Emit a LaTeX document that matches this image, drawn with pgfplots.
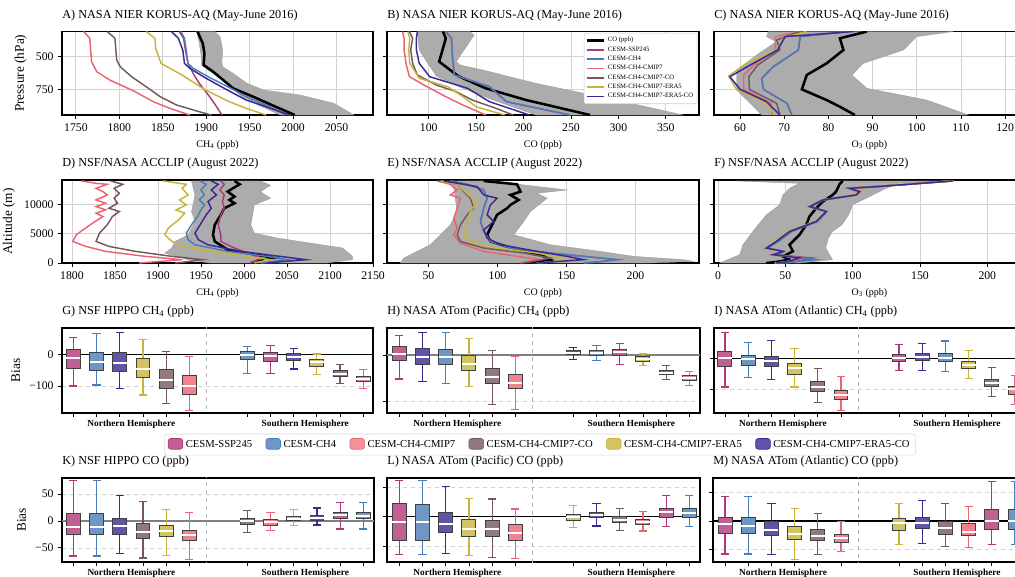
\documentclass[border=0pt]{standalone}
\usepackage{fontspec}
\setmainfont{Liberation Serif}
\usepackage{pgfplots}
\pgfplotsset{compat=1.18}
\usepgfplotslibrary{statistics}

\definecolor{cSSP}{RGB}{176,56,122}
\definecolor{cCH}{RGB}{74,125,183}
\definecolor{cCM}{RGB}{238,99,114}
\definecolor{cCO}{RGB}{117,88,92}
\definecolor{cERA}{RGB}{201,180,58}
\definecolor{cEC}{RGB}{58,40,148}

\tikzset{hemi/.style={font=\bfseries\fontsize{7}{8}\selectfont, anchor=north, inner sep=0pt, yshift=-5pt}}
\pgfplotsset{
 base/.style={scale only axis, anchor=south west, clip mode=individual,
   axis line style={line width=1.3pt}, tick align=outside, xtick pos=bottom, ytick pos=left,
   major tick length=2.8pt, tick style={black, line width=0.6pt},
   tick label style={font=\fontsize{8.8}{10}\selectfont},
   title style={at={(0,1)}, anchor=base west, inner sep=0pt, yshift=4pt, font=\fontsize{9.2}{10.5}\selectfont},
   ylabel style={font=\fontsize{10}{11}\selectfont},
   xlabel style={font=\fontsize{7.5}{8.5}\selectfont},
   scaled ticks=false, /pgf/number format/1000 sep={}, /pgf/number format/assume math mode=true},
 prof/.style={base, grid=major, grid style={gray!35, line width=0.6pt},
   legend image code/.code={\draw[##1] (0pt,0pt) -- (13pt,0pt);}},
 boxax/.style={base, ymajorgrids, grid style={dashed, gray!35, line width=0.5pt},
   xtick={0,1,2,3,4,5,7.5,8.5,9.5,10.5,11.5,12.5}, xticklabels={},
   boxplot/draw direction=y,
   boxplot/box extend=0.6, boxplot/whisker extend=0.35,
   boxplot/every median/.style={draw=white, line width=1.5pt}},
 mline/.style={line width=1.1pt},
 obs/.style={black, line width=1.9pt},
 band/.style={fill=gray!65, draw=gray!75, line width=0.3pt, forget plot},
}
% color, position, lower whisker, lower quartile, median, upper quartile, upper whisker
\newcommand{\bx}[7]{\addplot[#1, line width=0.9pt, forget plot,
  boxplot prepared={draw position=#2, lower whisker=#3, lower quartile=#4, median=#5, upper quartile=#6, upper whisker=#7},
  boxplot/every box/.style={draw=black!75, fill=#1!80, line width=0.7pt}] coordinates {};}
\newcommand{\sep}{\addplot[forget plot, dashed, gray!60, line width=0.5pt] coordinates {(5.73,-500) (5.73,500)};}
\newcommand{\zeroline}[1]{\addplot[forget plot, #1] coordinates {(-2,0) (15,0)};}
\newcommand{\hemis}{\node[hemi] at ({axis cs:2.5,0}|-{rel axis cs:0,0}) {Northern Hemisphere};
  \node[hemi] at ({axis cs:10,0}|-{rel axis cs:0,0}) {Southern Hemisphere};}

\begin{document}
\begin{tikzpicture}
%% ---------------- A
\begin{axis}[prof, at={(46.5pt,345.75pt)}, width=233.25pt, height=62.6pt,
  xmin=1734, xmax=2092, ymin=308, ymax=946, y dir=reverse,
  xtick={1750,1800,...,2050}, ytick={500,750},
  title={A) NASA NIER KORUS-AQ (May-June 2016)}, xlabel={CH\textsubscript{4} (ppb)}, ylabel={Pressure (hPa)}]
\addplot[band] coordinates {(1910,308) (1916,347) (1919,449) (1918,538) (1919,577) (1931,628) (1947,704) (1966,755) (2008,793) (2047,857) (2070,946)
  (1985,946) (1960,870) (1940,800) (1924,704) (1905,615) (1895,564) (1894,487) (1892,398) (1889,308)} -- cycle;
\addplot[obs] coordinates {(1890,308) (1896,398) (1898,475) (1897,564) (1908,615) (1931,742) (1954,806) (1980,883) (2002,946)};
\addplot[mline, cSSP] coordinates {(1869,308) (1874,360) (1876,449) (1879,551) (1886,640) (1892,704) (1904,806) (1912,883) (1918,946)};
\addplot[mline, cCH] coordinates {(1871,308) (1875,360) (1877,449) (1879,551) (1885,589) (1904,660) (1927,737) (1950,819) (1973,883) (1992,946)};
\addplot[mline, cCM] coordinates {(1759,308) (1766,360) (1767,450) (1768,538) (1774,615) (1789,679) (1816,760) (1839,844) (1858,895) (1881,946)};
\addplot[mline, cCO] coordinates {(1786,308) (1795,360) (1796,449) (1797,526) (1801,577) (1814,653) (1831,730) (1847,806) (1866,870) (1892,921) (1906,946)};
\addplot[mline, cERA] coordinates {(1831,308) (1841,360) (1842,440) (1848,551) (1872,640) (1898,750) (1925,840) (1946,895) (1969,946)};
\addplot[mline, cEC] coordinates {(1860,308) (1868,360) (1873,449) (1875,551) (1881,589) (1900,666) (1923,750) (1946,832) (1969,883) (1996,946)};
\end{axis}
%% ---------------- B
\begin{axis}[prof, at={(290.25pt,345.75pt)}, width=234pt, height=62.6pt,
  xmin=56, xmax=385, ymin=308, ymax=946, y dir=reverse,
  xtick={100,150,...,350}, ytick={500,750}, yticklabels={},
  title={B) NASA NIER KORUS-AQ (May-June 2016)}, xlabel={CO (ppb)},
  legend style={at={(0.995,0.985)}, anchor=north east, font=\fontsize{5}{6}\selectfont, draw=gray!40, rounded corners=1pt,
    inner sep=1pt, row sep=-1.8pt, cells={anchor=west}}]
\addplot[band] coordinates {(143,308) (148,334) (129,538) (133,564) (157,602) (213,704) (298,832) (368,946)
  (213,946) (168,832) (132,730) (108,648) (99,551) (90,449) (88,308)} -- cycle;
\addplot[obs] coordinates {(115,308) (118,360) (111,538) (131,648) (160,742) (203,832) (270,946)};
\addlegendentry{CO (ppb)}
\addplot[mline, cSSP] coordinates {(118,308) (124,360) (125,500) (127,640) (164,730) (182,844) (249,946)};
\addlegendentry{CESM-SSP245}
\addplot[mline, cCH] coordinates {(118,308) (124,360) (125,500) (127,640) (164,730) (182,844) (249,946)};
\addlegendentry{CESM-CH4}
\addplot[mline, cCM] coordinates {(72.5,308) (74,360) (74,449) (76,551) (79.6,653) (95,717) (118,806) (136,870) (160,946)};
\addlegendentry{CESM-CH4-CMIP7}
\addplot[mline, cCO] coordinates {(79.6,308) (83,360) (81,449) (83,551) (88,640) (108,717) (129,768) (146,832) (171,895) (189,946)};
\addlegendentry{CESM-CH4-CMIP7-CO}
\addplot[mline, cERA] coordinates {(78,308) (80,360) (79,449) (80,551) (90,666) (120,730) (136,806) (150,883) (180,946)};
\addlegendentry{CESM-CH4-CMIP7-ERA5}
\addplot[mline, cEC] coordinates {(88,308) (87,360) (87,449) (90,551) (101,653) (141,742) (164,844) (206,946)};
\addlegendentry{CESM-CH4-CMIP7-ERA5-CO}
\end{axis}
%% ---------------- C
\begin{axis}[prof, at={(535.5pt,345.75pt)}, width=233.25pt, height=62.6pt,
  xmin=54.1, xmax=124.5, ymin=308, ymax=946, y dir=reverse,
  xtick={60,70,...,120}, ytick={500,750}, yticklabels={},
  title={C) NASA NIER KORUS-AQ (May-June 2016)}, xlabel={O\textsubscript{3} (ppb)}]
\addplot[band] coordinates {(108.3,308) (100,347) (97,449) (87.9,551) (85.3,640) (88.7,742) (102.3,832) (111.7,946)
  (64.9,946) (62.3,857) (59.2,755) (59.2,602) (63.8,487) (68.2,385) (66,347) (66.4,308)} -- cycle;
\addplot[obs] coordinates {(88.7,308) (82.6,360) (83.4,449) (79.6,551) (75.1,640) (74,750) (79.6,832) (82.6,883) (86,946)};
\addplot[mline, cSSP] coordinates {(84.5,308) (73.6,347) (73.2,449) (67.5,577) (64.9,666) (65.3,750) (70.6,857) (71.7,946)};
\addplot[mline, cCH] coordinates {(84.5,308) (73.6,347) (73.2,449) (67.5,577) (64.9,666) (65.3,750) (70.6,857) (71.7,946)};
\addplot[mline, cCM] coordinates {(73.6,308) (68,347) (68,449) (64,540) (60.8,640) (60.8,750) (67,857) (67.2,946)};
\addplot[mline, cCO] coordinates {(73.6,308) (68.3,372) (69,449) (64,564) (62,653) (62.1,750) (68.3,857) (69,946)};
\addplot[mline, cERA] coordinates {(75,308) (69.8,360) (68.3,449) (61.5,551) (57.4,648) (59.2,750) (66,857) (67.9,946)};
\addplot[mline, cEC] coordinates {(85.7,308) (70.2,347) (68.5,449) (63,551) (57.7,653) (60,750) (66,844) (69,946)};
\end{axis}
%% ---------------- D
\begin{axis}[prof, at={(46.5pt,234.75pt)}, width=233.25pt, height=62.25pt,
  xmin=1788.4, xmax=2150, ymin=0, ymax=14125,
  xtick={1800,1850,...,2150}, ytick={0,5000,10000},
  title={D) NSF/NASA ACCLIP (August 2022)}, xlabel={CH\textsubscript{4} (ppb)}, ylabel={Altitude (m)}]
\addplot[band] coordinates {(2019,13960) (2031,13220) (2019,12148) (2031,11018) (2012,9888) (2008,6498) (2012,5085) (2039,4238) (2077,3390) (2115,2543) (2126,1130) (2126,565) (2096,0)
  (1960,0) (1935,565) (1908,1695) (1916,2543) (1920,3673) (1935,4803) (1943,7063) (1939,8758) (1943,11583) (1939,13960)} -- cycle;
\addplot[obs] coordinates {(1989,13960) (1995,13390) (1987,12710) (1981,12150) (1989,11300) (1983,10735) (1989,10170) (1977,9320) (1973,8190) (1966,6500) (1964,4800) (1966,3670) (1981,2260) (2004,1695) (2035,850) (2016,285) (2008,0)};
\addplot[mline, cSSP] coordinates {(1973,13960) (1977,13390) (1972,12430) (1977,11580) (1975,10450) (1977,9320) (1973,8190) (1970,6500) (1973,4800) (1973,3670) (1989,2540) (2004,1695) (2019,850) (2012,285) (2008,0)};
\addplot[mline, cCH] coordinates {(1949,13960) (1956,13390) (1950,12430) (1954,11580) (1948,10735) (1954,9890) (1950,9040) (1946,7910) (1939,6500) (1933,5085) (1935,3955) (1943,3110) (1981,1980) (2027,1130) (2050,565) (2030,170) (2020,0)};
\addplot[mline, cCM] coordinates {(1811,13960) (1828,13560) (1841,13390) (1828,12710) (1836,12150) (1841,11580) (1828,10735) (1839,10170) (1828,9605) (1839,9040) (1828,8475) (1836,7910) (1824,6780) (1813,5650) (1805,4800) (1801,3670) (1816,2825) (1839,1980) (1885,1130) (1928,565) (1893,170) (1878,0)};
\addplot[mline, cCO] coordinates {(1845,13960) (1859,13390) (1849,12710) (1855,11865) (1849,11020) (1853,10170) (1843,9320) (1855,8760) (1847,7910) (1841,6500) (1832,5085) (1828,3670) (1843,2825) (1874,1980) (1916,1130) (1952,565) (1931,170) (1920,0)};
\addplot[mline, cERA] coordinates {(1906,13960) (1933,13390) (1928,12710) (1935,11580) (1925,10735) (1933,9890) (1921,9040) (1931,8475) (1924,7345) (1912,5935) (1908,4800) (1916,3670) (1928,2825) (1962,1980) (2004,1130) (2031,565) (2016,170) (2012,0)};
\addplot[mline, cEC] coordinates {(1962,13960) (1970,13390) (1962,12430) (1968,11580) (1958,10450) (1962,9320) (1956,8190) (1949,6500) (1943,5085) (1947,3955) (1958,3110) (1996,1980) (2042,1130) (2072,565) (2039,170) (2027,0)};
\end{axis}
%% ---------------- E
\begin{axis}[prof, at={(290.25pt,234.75pt)}, width=234pt, height=62.25pt,
  xmin=20, xmax=246, ymin=0, ymax=14125,
  xtick={50,100,150,200}, ytick={0,5000,10000}, yticklabels={},
  title={E) NSF/NASA ACCLIP (August 2022)}, xlabel={CO (ppb)}]
\addplot[band] coordinates {(99.7,13960) (119.1,13278) (150.5,12430) (128.7,11865) (136,11018) (123.9,8758) (119.1,7063) (111.8,4803) (138.4,3108) (174.6,1978) (198.8,1130) (235,565) (242,283) (210.8,0)
  (29.7,0) (32.1,848) (41.8,1978) (51.4,3108) (56.3,4238) (65.9,6498) (70.8,8758) (68.4,12713) (63.5,13960)} -- cycle;
\addplot[obs] coordinates {(90,13960) (114.2,13390) (116.7,12148) (109.4,11583) (115.4,10735) (109.4,9888) (107,9323) (99.7,8193) (97.3,7063) (94.9,5933) (92.5,4803) (94.9,3673) (114.2,2260) (131.1,1413) (138.4,565) (128.7,283) (119,0)};
\addplot[mline, cSSP] coordinates {(65.9,13960) (78,13390) (90.1,12430) (92.5,11018) (90.1,9323) (87.7,7063) (90.1,5368) (94.9,3673) (109.4,2543) (138.4,1695) (162.5,1130) (186.7,565) (172.2,170) (162.5,0)};
\addplot[mline, cCH] coordinates {(65.9,13960) (78,13390) (90.1,12430) (92.5,11018) (90.1,9323) (87.7,7063) (90.1,5368) (94.9,3673) (109.4,2543) (138.4,1695) (162.5,1130) (186.7,565) (172.2,170) (162.5,0)};
\addplot[mline, cCM] coordinates {(56.3,13960) (65.9,13390) (70.8,12430) (65.9,11583) (73.2,11018) (70.8,9323) (68.4,7628) (70.8,5933) (68.4,4803) (73.2,3390) (90.1,1978) (114.2,1130) (131.1,565) (119.1,170) (116.7,0)};
\addplot[mline, cCO] coordinates {(59.9,13960) (70.8,13390) (75.6,12148) (80.4,11018) (82.8,9323) (78,8193) (73.2,6498) (70.8,4803) (73.2,3673) (90.1,2543) (119.1,1695) (138.4,848) (126.3,283) (119.1,0)};
\addplot[mline, cERA] coordinates {(58.7,13960) (70.8,13390) (80.4,11300) (85.3,10453) (80.4,8758) (78,6498) (75.6,4803) (80.4,3673) (99.7,2543) (128.7,1695) (148,848) (150.5,565) (138.4,170) (128.7,0)};
\addplot[mline, cEC] coordinates {(61.1,13960) (75.6,13390) (85.3,12995) (90.1,11583) (99.7,11018) (94.9,9888) (92.5,8193) (97.3,7063) (90.1,5650) (92.5,4238) (102.2,3108) (128.7,1978) (150.5,1130) (162.5,565) (138.4,170) (128.7,0)};
\end{axis}
%% ---------------- F
\begin{axis}[prof, at={(535.5pt,234.75pt)}, width=233.25pt, height=62.25pt,
  xmin=-3, xmax=228, ymin=0, ymax=14125,
  xtick={0,50,...,200}, ytick={0,5000,10000}, yticklabels={},
  title={F) NSF/NASA ACCLIP (August 2022)}, xlabel={O\textsubscript{3} (ppb)}]
\addplot[band] coordinates {(171.7,13960) (134.6,13560) (124.7,12713) (114.9,11583) (100,9888) (97,8193) (92,6498) (85,5368) (82,4238) (80,2543) (85,565) (60.5,0)
  (1.2,0) (16.1,1413) (18.5,3108) (25.9,5368) (35.8,8193) (45.7,9888) (48.2,11583) (53.1,12713) (60.5,13560) (13.6,13960)} -- cycle;
\addplot[obs] coordinates {(92.6,13960) (90.2,13390) (87.7,12148) (85.2,11583) (77.8,10453) (72.9,9323) (67.9,7910) (65.5,6498) (60.5,4803) (53.1,3108) (55.6,1978) (48.2,1130) (53.1,565) (43.2,170) (35.8,0)};
\addplot[mline, cSSP] coordinates {(172,13960) (133,13278) (116,12995) (97,12713) (104,12148) (102,11583) (78,10735) (68,9605) (80,8758) (73,7063) (54,5368) (44,3673) (36,2543) (48,1978) (42,1413) (70,848) (56,170) (46,0)};
\addplot[mline, cCH] coordinates {(173,13960) (134,13278) (117,12995) (98,12713) (105,12148) (103,11583) (79,10735) (69,9605) (81,8758) (74,7063) (55,5368) (45,3673) (37,2543) (49,1978) (45,1413) (72.9,565) (55,170) (50,0)};
\addplot[mline, cCM] coordinates {(175,13960) (135,13278) (118,12995) (98,12713) (106,12148) (103,11583) (77,10735) (67,9605) (80,8758) (72,7063) (53,5368) (43,3673) (35,2543) (48,1978) (40,1413) (60,848) (50,170) (43,0)};
\addplot[mline, cCO] coordinates {(174,13960) (134,13278) (117,12995) (97,12713) (105,12148) (102,11583) (78,10735) (68,9605) (80,8758) (73,7063) (53,5368) (43,3673) (36,2543) (48,1978) (41,1413) (61,848) (51,170) (43,0)};
\addplot[mline, cERA] coordinates {(173,13960) (133,13278) (116,12995) (97,12713) (104,12148) (101,11583) (77,10735) (67,9605) (79,8758) (72,7063) (52,5368) (42,3673) (35,2543) (47,1978) (40,1413) (60,848) (50,170) (42,0)};
\addplot[mline, cEC] coordinates {(174.1,13960) (134.6,13278) (117.3,12995) (97.6,12713) (105,12148) (102.5,11583) (77.8,10735) (67.9,9605) (80.3,8758) (72.9,7063) (53.1,5368) (43.2,3673) (35.8,2543) (48.2,1978) (40.8,1413) (60.5,848) (50.6,170) (43.2,0)};
\end{axis}
%% ---------------- G
\begin{axis}[boxax, at={(46.5pt,122.25pt)}, width=233.25pt, height=63.75pt,
  xmin=-0.49, xmax=12.92, ymin=-185, ymax=83, ytick={-100,0}, yticklabels={−100,0},
  ylabel={Bias}, title={G) NSF HIPPO CH\textsubscript{4} (ppb)}]
\sep \zeroline{black, line width=0.8pt}
\bx{cSSP}{0}{-100}{-44}{-13}{16}{53}
\bx{cCH}{1}{-97}{-50}{-23}{6}{66}
\bx{cEC}{2}{-107}{-55}{-28}{6}{68}
\bx{cERA}{3}{-128}{-74}{-46}{-13}{47}
\bx{cCO}{4}{-156}{-107}{-81}{-47}{10}
\bx{cCM}{5}{-176}{-126}{-100}{-67}{-7}
\bx{cCH}{7.5}{-60}{-16}{-2}{8}{24}
\bx{cSSP}{8.5}{-60}{-21}{-5}{5}{27}
\bx{cEC}{9.5}{-46}{-18}{-7}{2}{19}
\bx{cERA}{10.5}{-63}{-37}{-25}{-16}{1}
\bx{cCO}{11.5}{-92}{-70}{-61}{-52}{-32}
\bx{cCM}{12.5}{-109}{-86}{-78}{-69}{-49}
\hemis
\end{axis}
%% ---------------- H
\begin{axis}[boxax, at={(290.25pt,122.25pt)}, width=234.75pt, height=63.75pt,
  xmin=-0.53, xmax=12.96, ymin=-126, ymax=58.7, ytick={-100,0}, yticklabels={},
  title={H) NASA ATom (Pacific) CH\textsubscript{4} (ppb)},
  legend style={at={(0.489,-0.371)}, anchor=center, legend columns=6, draw=gray!30, rounded corners=2pt,
    font=\fontsize{8}{9}\selectfont, inner sep=2.5pt, /tikz/every even column/.append style={column sep=8pt}},
  legend image code/.code={\draw[#1, line width=0.5pt] (0pt,-3.5pt) rectangle (11pt,4.5pt);}]
\sep \zeroline{gray, line width=1.2pt}
\bx{cSSP}{0}{-52}{-11}{2}{18}{42}
\bx{cEC}{1}{-57}{-20}{-4}{14}{49}
\bx{cCH}{2}{-62}{-20}{-5}{13}{49}
\bx{cERA}{3}{-68}{-33}{-20}{0}{36}
\bx{cCO}{4}{-107}{-61}{-47}{-29}{9}
\bx{cCM}{5}{-119}{-72}{-60}{-42}{-4}
\bx{cEC}{7.5}{-9}{1}{5}{9}{16}
\bx{cCH}{8.5}{-12}{-1}{5}{9}{20}
\bx{cSSP}{9.5}{-20}{-1}{7}{12}{25}
\bx{cERA}{10.5}{-22}{-13}{-8}{-4}{2}
\bx{cCO}{11.5}{-54}{-43}{-38}{-33}{-23}
\bx{cCM}{12.5}{-66}{-55}{-49}{-45}{-36}
\hemis
\addlegendimage{fill=cSSP!80, draw=cSSP}\addlegendentry{CESM-SSP245}
\addlegendimage{fill=cCH!80, draw=cCH}\addlegendentry{CESM-CH4}
\addlegendimage{fill=cCM!70, draw=cCM}\addlegendentry{CESM-CH4-CMIP7}
\addlegendimage{fill=cCO!80, draw=cCO}\addlegendentry{CESM-CH4-CMIP7-CO}
\addlegendimage{fill=cERA!80, draw=cERA}\addlegendentry{CESM-CH4-CMIP7-ERA5}
\addlegendimage{fill=cEC!80, draw=cEC}\addlegendentry{CESM-CH4-CMIP7-ERA5-CO}
\end{axis}
%% ---------------- I
\begin{axis}[boxax, at={(535.5pt,122.25pt)}, width=233.25pt, height=63.75pt,
  xmin=-0.47, xmax=12.93, ymin=-176, ymax=97.7, ytick={-100,0}, yticklabels={},
  title={I) NASA ATom (Atlantic) CH\textsubscript{4} (ppb)}]
\sep \zeroline{black, line width=0.8pt}
\bx{cSSP}{0}{-92}{-25}{0}{22}{84}
\bx{cCH}{1}{-62}{-23}{-2}{9}{51}
\bx{cEC}{2}{-69}{-25}{-9}{5}{58}
\bx{cERA}{3}{-92}{-53}{-32}{-18}{31}
\bx{cCO}{4}{-142}{-106}{-91}{-76}{-32}
\bx{cCM}{5}{-167}{-132}{-118}{-102}{-59}
\bx{cSSP}{7.5}{-39}{-11}{2}{13}{45}
\bx{cEC}{8.5}{-39}{-8}{5}{16}{48}
\bx{cCH}{9.5}{-43}{-11}{2}{16}{56}
\bx{cERA}{10.5}{-65}{-33}{-22}{-11}{24}
\bx{cCO}{11.5}{-123}{-92}{-78}{-67}{-29}
\bx{cCM}{12.5}{-148}{-116}{-99}{-89}{-56}
\hemis
\end{axis}
%% ---------------- K
\begin{axis}[boxax, at={(46.5pt,10.3pt)}, width=234pt, height=63.45pt,
  xmin=-0.49, xmax=12.96, ymin=-76.8, ymax=80.5, ytick={-50,0,50}, yticklabels={−50,0,50},
  ylabel={Bias}, title={K) NSF HIPPO CO (ppb)}]
\sep \zeroline{gray, line width=1.2pt}
\bx{cSSP}{0}{-65}{-26}{-11}{14}{75}
\bx{cCH}{1}{-65}{-26}{-11}{14}{75}
\bx{cEC}{2}{-61}{-26}{-9}{4}{47}
\bx{cCO}{3}{-69}{-32}{-21}{-5}{36}
\bx{cERA}{4}{-64}{-29}{-19}{-9}{22}
\bx{cCM}{5}{-71}{-37}{-27}{-17}{16}
\bx{cCO}{7.5}{-22}{-6}{-1}{5}{19}
\bx{cCM}{8.5}{-17}{-7.5}{-2.5}{2}{16}
\bx{cERA}{9.5}{-9}{0}{4}{8}{22}
\bx{cEC}{10.5}{-7.5}{1}{6}{11}{24}
\bx{cSSP}{11.5}{-15}{4}{11}{16}{34}
\bx{cCH}{12.5}{-15}{4}{10}{16}{34}
\hemis
\end{axis}
%% ---------------- L
\begin{axis}[boxax, at={(290.25pt,10.3pt)}, width=234.75pt, height=63.45pt,
  xmin=-0.53, xmax=12.96, ymin=-77.6, ymax=66.3, ytick={-50,0,50}, yticklabels={},
  title={L) NASA ATom (Pacific) CO (ppb)}]
\sep \zeroline{black, line width=0.8pt}
\bx{cSSP}{0}{-64}{-40}{-8.5}{23}{61}
\bx{cCH}{1}{-64}{-40}{-8.5}{21}{61}
\bx{cEC}{2}{-63}{-27}{-13}{7}{51}
\bx{cERA}{3}{-66}{-33}{-21}{-4.5}{31.5}
\bx{cCO}{4}{-70}{-34}{-21}{-7}{30}
\bx{cCM}{5}{-71}{-40}{-27}{-14}{13}
\bx{cERA}{7.5}{-19}{-5.7}{0}{4}{19}
\bx{cEC}{8.5}{-16}{-1.7}{3}{7.5}{23}
\bx{cCO}{9.5}{-23}{-10}{-5.7}{0}{14}
\bx{cCM}{10.5}{-24.5}{-13}{-8.5}{-4}{8.6}
\bx{cSSP}{11.5}{-17}{-1.7}{7.5}{14}{36}
\bx{cCH}{12.5}{-17}{-1.5}{6}{14}{36}
\hemis
\end{axis}
%% ---------------- M
\begin{axis}[boxax, at={(534.75pt,10.3pt)}, width=233.25pt, height=63.45pt,
  xmin=-0.52, xmax=12.89, ymin=-72.4, ymax=76, ytick={-50,0,50}, yticklabels={},
  title={M) NASA ATom (Atlantic) CO (ppb)}]
\sep \zeroline{black, line width=0.8pt}
\bx{cSSP}{0}{-58}{-22}{-6}{6.5}{43}
\bx{cCH}{1}{-58}{-22}{-8}{6.5}{43}
\bx{cEC}{2}{-59}{-25}{-16}{-1}{31}
\bx{cERA}{3}{-67}{-32}{-22}{-9}{22}
\bx{cCO}{4}{-59}{-33.5}{-26}{-15}{13.5}
\bx{cCM}{5}{-54}{-38}{-30.5}{-23.5}{-1}
\bx{cERA}{7.5}{-41}{-16}{-4}{5}{31}
\bx{cEC}{8.5}{-39}{-13}{-4}{7}{36}
\bx{cCO}{9.5}{-45}{-23.5}{-13}{-1}{30}
\bx{cCM}{10.5}{-47}{-25}{-19}{-4}{25}
\bx{cSSP}{11.5}{-41}{-14}{0}{21}{69}
\bx{cCH}{12.5}{-41}{-14}{0}{21}{69}
\hemis
\end{axis}
\pgfresetboundingbox
\useasboundingbox (0pt,0pt) rectangle (761.25pt,432pt);
\end{tikzpicture}
\end{document}
